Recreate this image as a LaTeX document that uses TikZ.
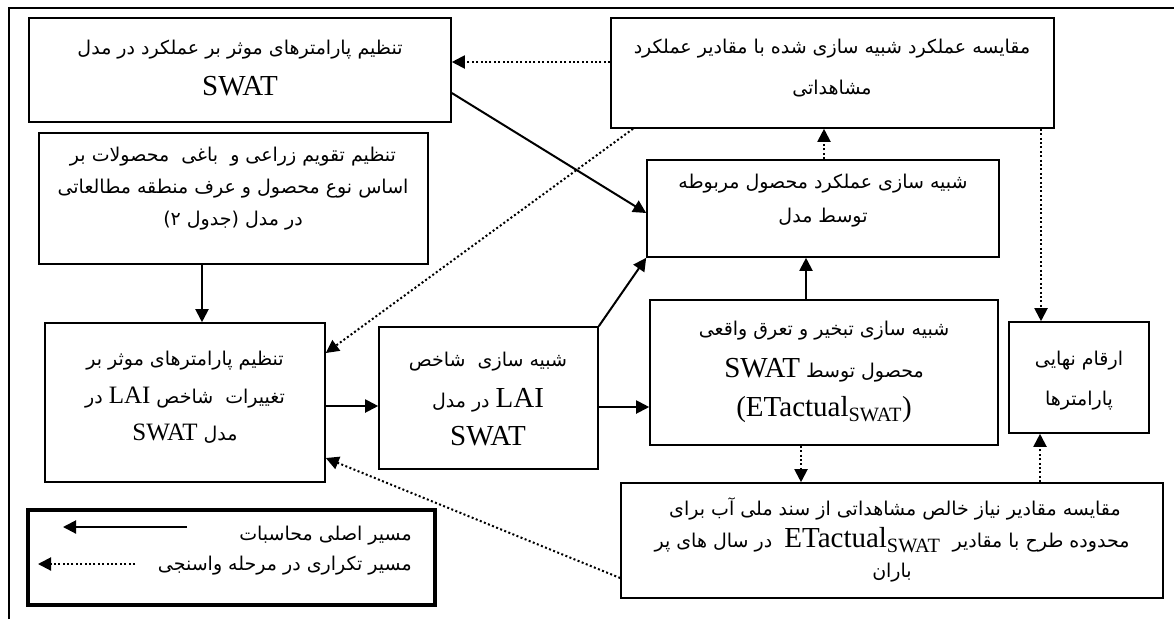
\documentclass[tikz,border=0pt]{standalone}
\usepackage{fontspec}
\setmainfont{Liberation Serif}
\newfontfamily\fa[Script=Arabic]{DejaVu Sans}
\TeXXeTstate=1
\usetikzlibrary{arrows.meta,calc}
\newcommand\lt[1]{\mbox{\beginL\rmfamily\fontsize{29}{33}\selectfont #1\endL}}
\newcommand\ltsm[1]{\mbox{\beginL\rmfamily\fontsize{25}{29}\selectfont #1\endL}}
\tikzset{
  box/.style={draw, line width=1.6pt, inner sep=0pt},
  txt/.style={font=\fa\fontsize{19}{22}\selectfont, inner sep=0pt, anchor=center},
  solidarrow/.style={line width=2pt, -{Triangle[length=13pt,width=13pt]}},
  dotarrow/.style={line width=2pt, dash pattern=on 2pt off 2.4pt, -{Triangle[length=13pt,width=13pt]}},
}
\begin{document}
\begin{tikzpicture}[x=1pt,y=-1pt]
\useasboundingbox (0,0) rectangle (1174,619);
\fill[white] (0,0) rectangle (1174,619);
% outer frame
\coordinate (fbl) at (9,619);
\coordinate (ftl) at (9,8);
\coordinate (ftr) at (1174,8);
\draw[line width=2.2pt] (fbl) -- (ftl) -- (ftr);

% boxes
\node[box, minimum width=422pt, minimum height=104pt] (A) at (240,70) {};
\node[box, minimum width=389pt, minimum height=131pt] (B) at (233.5,198.5) {};
\node[box, minimum width=280pt, minimum height=159pt] (C) at (185,402.5) {};
\node[box, minimum width=219pt, minimum height=142pt] (D) at (488.5,398) {};
\node[box, minimum width=443pt, minimum height=110pt] (E) at (832.5,73) {};
\node[box, minimum width=352pt, minimum height=97pt] (F) at (823,208.5) {};
\node[box, minimum width=348pt, minimum height=145pt] (G) at (824,372.5) {};
\node[box, minimum width=140pt, minimum height=111pt] (H) at (1079,377.5) {};
\node[box, minimum width=542pt, minimum height=115pt] (I) at (892,540.5) {};
\node[draw, line width=3.2pt, minimum width=407pt, minimum height=95pt, inner sep=0pt] (L) at (231.5,557.5) {};

% texts
\node[txt] (A1) at (240,50) {\beginR تنظیم پارامترهای موثر بر عملکرد در مدل\endR};
\node[txt] (A2) at (240,86) {\lt{SWAT}};

\node[txt] (B1) at (233,157) {\beginR تنظیم تقویم زراعی و\ \ باغی\ \ محصولات بر\endR};
\node[txt] (B2) at (233,189) {\beginR اساس نوع محصول و عرف منطقه مطالعاتی\endR};
\node[txt] (B3) at (233,221) {\beginR در مدل (جدول ۲)\endR};

\node[txt] (C1) at (185,361) {\beginR تنظیم پارامترهای موثر بر\endR};
\node[txt] (C2) at (185,398) {\beginR تغییرات\ \ شاخص \ltsm{LAI} در\endR};
\node[txt] (C3) at (185,434) {\beginR مدل \ltsm{SWAT}\endR};

\node[txt] (D1) at (488,362) {\beginR شبیه سازی\ \ شاخص\endR};
\node[txt] (D2) at (488,400) {\beginR \lt{LAI} در مدل\endR};
\node[txt] (D3) at (488,436) {\lt{SWAT}};

\node[txt] (E1) at (832,49) {\beginR مقایسه عملکرد شبیه سازی شده با مقادیر عملکرد\endR};
\node[txt] (E2) at (832,89) {\beginR مشاهداتی\endR};

\node[txt] (F1) at (823,184) {\beginR شبیه سازی عملکرد محصول مربوطه\endR};
\node[txt] (F2) at (823,218) {\beginR توسط مدل\endR};

\node[txt] (G1) at (824,331) {\beginR شبیه سازی تبخیر و تعرق واقعی\endR};
\node[txt] (G2) at (824,370) {\beginR محصول توسط \lt{SWAT}\endR};
\node[txt] (G3) at (824,410) {\lt{(ETactual\textsubscript{SWAT})}};

\node[txt] (H1) at (1079,361) {\beginR ارقام نهایی\endR};
\node[txt] (H2) at (1079,401) {\beginR پارامترها\endR};

\node[txt] (I1) at (895,509) {\beginR مقایسه مقادیر نیاز خالص مشاهداتی از سند ملی آب برای\endR};
\node[txt] (I2) at (892,540) {\beginR محدوده طرح با مقادیر\ \ \lt{ETactual\textsubscript{SWAT}}\ \ در سال های پر\endR};
\node[txt] (I3) at (892,573) {\beginR باران\endR};

\node[txt, anchor=east] (L1) at (412,536) {\beginR مسیر اصلی محاسبات\endR};
\node[txt, anchor=east] (L2) at (412,566) {\beginR مسیر تکراری در مرحله واسنجی\endR};

% legend arrows
\coordinate (ls1) at (187,527);
\coordinate (le1) at (63,527);
\coordinate (ls2) at (135,564);
\coordinate (le2) at (38,564);
\draw[solidarrow] (ls1) -- (le1);
\draw[dotarrow] (ls2) -- (le2);

% connectors
\draw[dotarrow] (E.west |- 0,62) -- (A.east |- 0,62);
\draw[solidarrow] (A.east |- 0,93) -- (F.west |- 0,213);
\draw[solidarrow] (B.south -| 202,0) -- (C.north -| 202,0);
\draw[dotarrow] (E.south -| 633,0) -- (C.east |- 0,353);
\draw[dotarrow] (F.north -| 824,0) -- (E.south -| 824,0);
\draw[dotarrow] (E.south -| 1041,0) -- (H.north -| 1041,0);
\draw[solidarrow] (C.east |- 0,406) -- (D.west |- 0,406);
\draw[solidarrow] (D.north east) -- (F.south west);
\draw[solidarrow] (D.east |- 0,407) -- (G.west |- 0,407);
\draw[dotarrow] (G.south -| 801,0) -- (I.north -| 801,0);
\draw[dotarrow] (I.north -| 1040,0) -- (H.south -| 1040,0);
\draw[dotarrow] (I.west |- 0,578) -- (C.east |- 0,458);
\draw[solidarrow] (G.north -| 806,0) -- (F.south -| 806,0);
\end{tikzpicture}
\end{document}
